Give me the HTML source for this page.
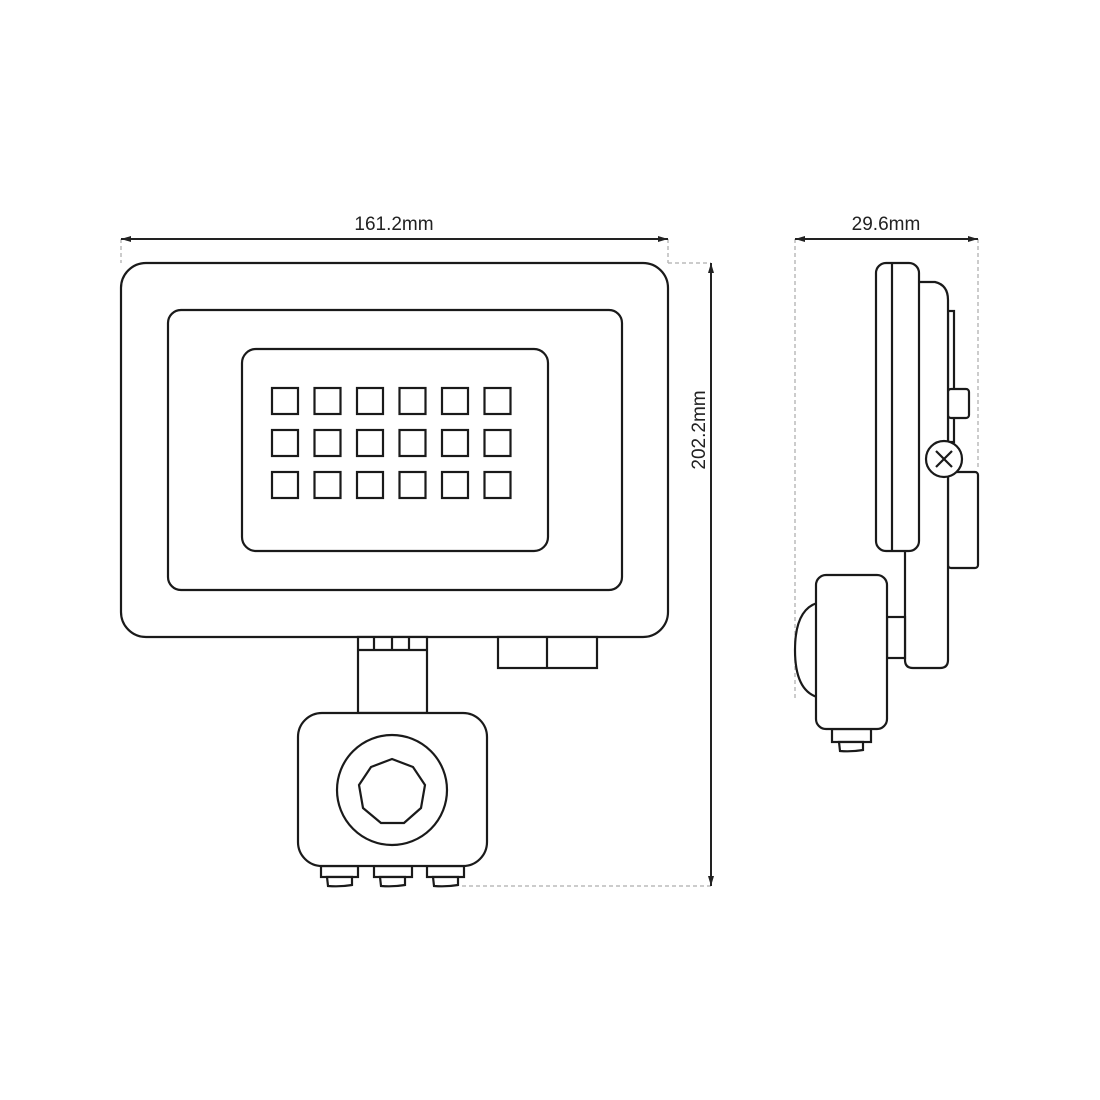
<!DOCTYPE html>
<html><head><meta charset="utf-8"><style>
html,body{margin:0;padding:0;background:#fff;}
svg{display:block;}
text{font-family:"Liberation Sans",sans-serif;font-size:19px;fill:#222;}
</style></head><body>
<svg width="1100" height="1100" viewBox="0 0 1100 1100" xmlns="http://www.w3.org/2000/svg">
<defs>
<marker id="a" viewBox="0 0 10 10" refX="10" refY="5" markerWidth="10" markerHeight="10" orient="auto-start-reverse" markerUnits="userSpaceOnUse"><path d="M0,2 L10,5 L0,8 Z" fill="#222"/></marker>
</defs>
<g stroke="#bbb" stroke-width="1.5" stroke-dasharray="4,3" fill="none">
<line x1="121" y1="239" x2="121" y2="263"/>
<line x1="668" y1="239" x2="668" y2="263"/>
<line x1="668" y1="263" x2="711" y2="263"/>
<line x1="462" y1="886" x2="711" y2="886"/>
<line x1="795" y1="239" x2="795" y2="700"/>
<line x1="978" y1="239" x2="978" y2="470"/>
</g>
<g stroke="#222" stroke-width="2" fill="none">
<line x1="121" y1="239" x2="668" y2="239" marker-start="url(#a)" marker-end="url(#a)"/>
<line x1="711" y1="263" x2="711" y2="886" marker-start="url(#a)" marker-end="url(#a)"/>
<line x1="795" y1="239" x2="978" y2="239" marker-start="url(#a)" marker-end="url(#a)"/>
</g>
<text x="394" y="230" text-anchor="middle">161.2mm</text>
<text x="886" y="230" text-anchor="middle">29.6mm</text>
<text transform="translate(705,430) rotate(-90)" text-anchor="middle">202.2mm</text>

<g stroke="#1a1a1a" stroke-width="2.2" fill="#fff">
<rect x="121" y="263" width="547" height="374" rx="25"/>
<rect x="168" y="310" width="454" height="280" rx="13"/>
<rect x="242" y="349" width="306" height="202" rx="14"/>
<g>
<rect x="272" y="388" width="26" height="26"/><rect x="314.5" y="388" width="26" height="26"/><rect x="357" y="388" width="26" height="26"/><rect x="399.5" y="388" width="26" height="26"/><rect x="442" y="388" width="26" height="26"/><rect x="484.5" y="388" width="26" height="26"/>
<rect x="272" y="430" width="26" height="26"/><rect x="314.5" y="430" width="26" height="26"/><rect x="357" y="430" width="26" height="26"/><rect x="399.5" y="430" width="26" height="26"/><rect x="442" y="430" width="26" height="26"/><rect x="484.5" y="430" width="26" height="26"/>
<rect x="272" y="472" width="26" height="26"/><rect x="314.5" y="472" width="26" height="26"/><rect x="357" y="472" width="26" height="26"/><rect x="399.5" y="472" width="26" height="26"/><rect x="442" y="472" width="26" height="26"/><rect x="484.5" y="472" width="26" height="26"/>
</g>
<rect x="358" y="637" width="69" height="76"/>
<line x1="358" y1="650" x2="427" y2="650"/>
<line x1="374" y1="637" x2="374" y2="650"/><line x1="392" y1="637" x2="392" y2="650"/><line x1="409" y1="637" x2="409" y2="650"/>
<rect x="498" y="637" width="99" height="31"/>
<line x1="547" y1="637" x2="547" y2="668"/>
<rect x="321" y="866" width="37" height="11"/><rect x="374" y="866" width="38" height="11"/><rect x="427" y="866" width="37" height="11"/>
<path d="M327,877 L352,877 L352,885 Q340,887 328,886 Z"/>
<path d="M380,877 L405,877 L405,885 Q393,887 381,886 Z"/>
<path d="M433,877 L458,877 L458,885 Q446,887 434,886 Z"/>
<rect x="298" y="713" width="189" height="153" rx="24"/>
<circle cx="392" cy="790" r="55"/>
<polygon points="392,759 413,767 425,785 421,808 404,823 381,823 363,808 359,785 371,767"/>

<!-- side view -->
<rect x="948" y="311" width="6" height="131"/>
<rect x="948" y="389" width="21" height="29" rx="3"/>
<rect x="948" y="472" width="30" height="96" rx="3"/>
<path d="M905,282 L935,282 Q948,285 948,300 L948,660 Q948,668 940,668 L913,668 Q905,668 905,660 Z"/>
<circle cx="944" cy="459" r="18"/>
<line x1="936" y1="451" x2="952" y2="467"/><line x1="952" y1="451" x2="936" y2="467"/>
<rect x="876" y="263" width="43" height="288" rx="10"/>
<line x1="892" y1="263" x2="892" y2="551"/>
<rect x="887" y="617" width="18" height="41"/>
<path d="M817,603 Q795,610 795,650 Q795,690 817,697"/>
<rect x="832" y="729" width="39" height="13"/>
<path d="M839,742 L863,742 L863,750 Q851,752 840,751 Z"/>
<rect x="816" y="575" width="71" height="154" rx="10"/>
</g>
</svg>
</body></html>
